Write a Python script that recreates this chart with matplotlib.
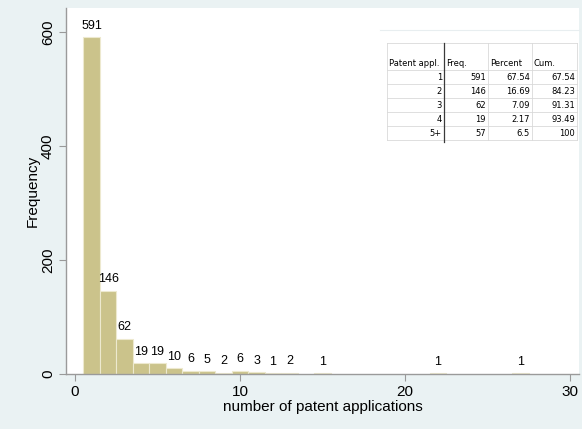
import matplotlib
matplotlib.use("Agg")
import matplotlib.pyplot as plt
from matplotlib.lines import Line2D

# ---- data ----
patents = [1, 2, 3, 4, 5, 6, 7, 8, 9, 10, 11, 12, 13, 15, 22, 27]
freq = [591, 146, 62, 19, 19, 10, 6, 5, 2, 6, 3, 1, 2, 1, 1, 1]
x_ticks = [0, 10, 20, 30]
y_ticks = [0, 200, 400, 600]

tab_header = ["Patent appl.", "Freq.", "Percent", "Cum."]
tab_cat = ["1", "2", "3", "4", "5+"]
tab_freq = ["591", "146", "62", "19", "57"]
tab_pct = ["67.54", "16.69", "7.09", "2.17", "6.5"]
tab_cum = ["67.54", "84.23", "91.31", "93.49", "100"]

W, H = 582, 429
BG = "#EAF2F3"
BAR = "#CBC38B"

plt.rcParams['font.family'] = ['Liberation Sans', 'DejaVu Sans']
fig = plt.figure(figsize=(W / 100, H / 100), dpi=100, facecolor=BG)
ax = fig.add_axes([66 / W, (H - 374) / H, (579 - 66) / W, (374 - 8) / H])
ax.set_facecolor("white")

ax.bar(patents, freq, width=1.0, color=BAR, edgecolor="#EDE9CF", linewidth=0.8)
for xv, yv in zip(patents, freq):
    ax.annotate(str(yv), (xv, yv), xytext=(0, 4), textcoords="offset points",
                ha="center", va="bottom", fontsize=9)

ax.set_xlim(-0.55, 30.55)
ax.set_ylim(0, 642)
ax.set_xticks(x_ticks)
ax.set_yticks(y_ticks)
ax.set_yticklabels([str(v) for v in y_ticks], rotation=90, va="center")
ax.tick_params(axis="both", length=5, color="#999999", labelsize=11, pad=3)
for s in ["top", "right"]:
    ax.spines[s].set_visible(False)
for s in ["left", "bottom"]:
    ax.spines[s].set_color("#9a9a9a")
    ax.spines[s].set_linewidth(1.0)
ax.set_xlabel("number of patent applications", fontsize=11, labelpad=1)
ax.set_ylabel("Frequency", fontsize=11, labelpad=1)

# ---- inset table (pixel layout) ----
def fx(x):
    return x / W

def fy(y):
    return 1 - y / H

def hline(y, x0, x1, color, lw=0.6):
    fig.add_artist(Line2D([fx(x0), fx(x1)], [fy(y), fy(y)], transform=fig.transFigure,
                          color=color, lw=lw))

def vline(x, y0, y1, color, lw=0.6):
    fig.add_artist(Line2D([fx(x), fx(x)], [fy(y0), fy(y1)], transform=fig.transFigure,
                          color=color, lw=lw))

hline(30, 380, 579, "#e8eef0", 0.8)
L, R = 387, 577
cols = [387, 444, 488, 532, 577]
top, hdr_bot, row_h = 43, 70, 14
nrows = len(tab_cat)
bot = hdr_bot + row_h * nrows
light = "#d9d9d9"
hline(top, L, R, light)
for i in range(nrows + 1):
    hline(hdr_bot + i * row_h, L, R, light)
vline(L, top, bot, light)
vline(R, top, bot, light)
vline(cols[2], top, bot, light)
vline(cols[3], top, bot, light)
vline(cols[1], top, bot + 2, "#3a3a3a", 0.9)

tfs = 6.0
tfont = ['DejaVu Sans']
for j, h in enumerate(tab_header):
    fig.text(fx(cols[j] + 2), fy(64), h, ha="left", va="center", fontsize=tfs, family=tfont)
columns = [tab_cat, tab_freq, tab_pct, tab_cum]
for j, col in enumerate(columns):
    for i, v in enumerate(col):
        yc = hdr_bot + row_h * i + row_h / 2
        fig.text(fx(cols[j + 1] - 2), fy(yc), v, ha="right", va="center",
                 fontsize=tfs, family=tfont)

fig.savefig("out.png", dpi=100, facecolor=BG)
